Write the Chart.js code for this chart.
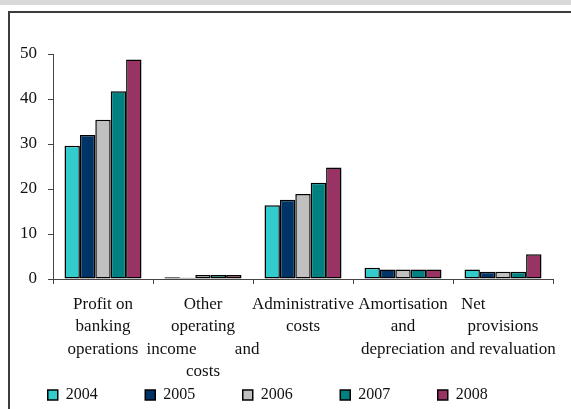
<!DOCTYPE html>
<html>
<head>
<meta charset="utf-8">
<script src="https://cdn.jsdelivr.net/npm/chart.js@4.4.1/dist/chart.umd.min.js"></script>
<style>
  html, body { margin: 0; padding: 0; background: #fff; overflow: hidden; width: 571px; height: 409px; }
  .band { position: absolute; left: 0; top: 0; width: 571px; height: 5px; background: #d9d9d9; }
  .frame { position: absolute; left: 8px; top: 11px; width: 700px; height: 500px; border-left: 2px solid #3c3c3c; border-top: 2px solid #3c3c3c; }
  #chart { position: absolute; left: 0; top: 0; }
</style>
</head>
<body>
<div class="band"></div>
<div class="frame"></div>
<canvas id="chart" width="576" height="414"></canvas>
<script>
// category labels, split the way the picture wraps them
const categories = [
  ['Profit on', 'banking', 'operations'],
  ['Other', 'operating', 'income         and', 'costs'],
  ['Administrative', 'costs'],
  ['Amortisation', 'and', 'depreciation'],
  ['Net              ', 'provisions', 'and revaluation']
];
const years = ['2004', '2005', '2006', '2007', '2008'];
const colors = ['#33CCCC', '#003366', '#C0C0C0', '#008080', '#993366'];

const values2004 = [29.6, 0.4, 16.4, 2.5, 2.1];
const values2005 = [32.0, 0.3, 17.6, 2.1, 1.6];
const values2006 = [35.4, 0.9, 18.9, 2.1, 1.6];
const values2007 = [41.7, 0.9, 21.4, 2.1, 1.6];
const values2008 = [48.8, 0.9, 24.8, 2.1, 5.5];

const yTicks = [0, 10, 20, 30, 40, 50];

const series = [values2004, values2005, values2006, values2007, values2008];
const serif = '"Liberation Serif", "Times New Roman", serif';

const ctx = document.getElementById('chart').getContext('2d');
new Chart(ctx, {
  type: 'bar',
  data: {
    labels: categories,
    datasets: series.map((vals, i) => ({
      label: years[i],
      data: vals,
      backgroundColor: colors[i],
      borderColor: '#000',
      borderWidth: 1.5,
      borderSkipped: false,
      categoryPercentage: 0.77,
      barPercentage: 1.0
    }))
  },
  options: {
    responsive: false,
    animation: false,
    layout: { padding: { top: 54, right: 0.5, left: 0, bottom: 1 } },
    plugins: {
      tooltip: { enabled: false },
      legend: {
        position: 'bottom',
        align: 'center',
        labels: {
          boxWidth: 10,
          boxHeight: 10,
          padding: 7.5,
          color: '#111',
          font: { family: serif, size: 16 },
          // wide gaps between the legend entries, as in the picture
          generateLabels: (chart) => Chart.defaults.plugins.legend.labels.generateLabels(chart)
            .map(item => Object.assign(item, { text: item.text + '          ' }))
        }
      }
    },
    scales: {
      x: {
        afterFit: (scale) => { scale.height = 100.5; },
        grid: { drawOnChartArea: false, drawTicks: true, tickLength: 5, color: '#444', offset: true },
        border: { color: '#444', width: 1 },
        ticks: {
          color: '#111',
          padding: 9,
          maxRotation: 0,
          autoSkip: false,
          font: { family: serif, size: 17, lineHeight: 1.32 }
        }
      },
      y: {
        min: 0,
        max: 50,
        afterFit: (scale) => { scale.width = 53; },
        afterBuildTicks: (scale) => { scale.ticks = yTicks.map(v => ({ value: v })); },
        grid: { drawOnChartArea: false, drawTicks: true, tickLength: 5, color: '#444' },
        border: { color: '#444', width: 1 },
        ticks: {
          color: '#111',
          padding: 11,
          font: { family: serif, size: 17 }
        }
      },
      // empty spacer on the right so the plot ends where the picture's does
      spacer: {
        position: 'right',
        afterFit: (scale) => { scale.width = 22.5; },
        grid: { display: false },
        border: { display: false },
        ticks: { display: false }
      }
    }
  }
});
</script>
</body>
</html>
